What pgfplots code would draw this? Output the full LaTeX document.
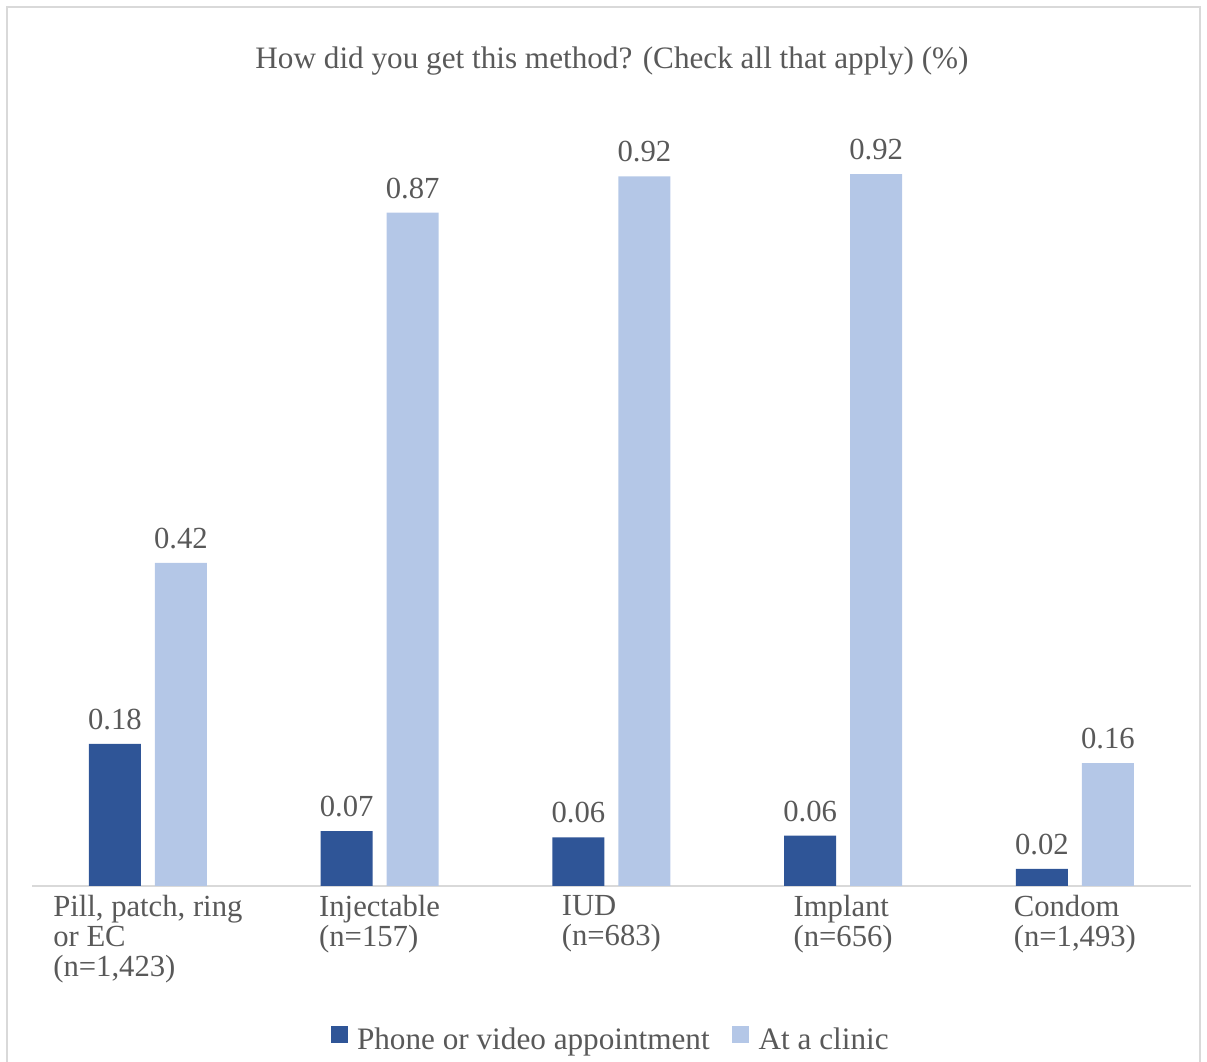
\documentclass[border=0pt]{standalone}
\usepackage{fontspec}
\setmainfont{Liberation Serif}
\usepackage{pgfplots}
\usepackage{pgfplotstable}
\pgfplotsset{compat=1.18}
\definecolor{darkbar}{HTML}{2F5597}
\definecolor{lightbar}{HTML}{B4C7E7}
\definecolor{textgrey}{HTML}{595959}
\definecolor{linegrey}{HTML}{D9D9D9}
\pgfplotstableread{
x y label
0 0.184 0.18
1 0.071 0.07
2 0.063 0.06
3 0.065 0.06
4 0.022 0.02
}\phone
\pgfplotstableread{
x y label
0 0.418 0.42
1 0.871 0.87
2 0.918 0.92
3 0.921 0.92
4 0.159 0.16
}\clinic
\newcommand{\chartfont}{\fontsize{23}{22.5}\selectfont}
\newcommand{\bigfont}{\fontsize{23.4}{22.5}\selectfont}
\begin{document}
\begin{tikzpicture}
\useasboundingbox (-24pt,-132pt) rectangle (881.25pt,664.5pt);
\draw[linegrey, line width=1.5pt] (-18.75pt,-140pt) -- (-18.75pt,659.25pt) -- (876pt,659.25pt) -- (876pt,-140pt);
\begin{axis}[
  scale only axis,
  width=869.06pt, height=579.75pt,
  xmin=-0.5, xmax=4.5, ymin=0, ymax=1,
  ybar=10.5pt, bar width=39pt,
  axis x line=bottom, axis y line=none,
  x axis line style={-, draw=linegrey, line width=1.5pt},
  xtick={0,1,2,3,4},
  xticklabels={{Pill, patch, ring\\or EC\\(n=1,423)},{Injectable\\(n=157)},{IUD\\(n=683)},{Implant\\(n=656)},{Condom\\(n=1,493)}},
  xtick style={draw=none},
  ytick=\empty,
  xticklabel style={align=left, anchor=north, inner sep=0pt, yshift=-4.5pt, font=\chartfont, text=textgrey},
  nodes near coords={\pgfplotspointmeta},
  point meta=explicit symbolic,
  every node near coord/.append style={anchor=base, inner sep=0pt, yshift=11pt, font=\chartfont, text=textgrey},
  legend style={draw=none, at={(0.4997,-0.1992)}, anchor=center, font=\bigfont, text=textgrey,
    legend columns=-1, inner sep=0pt,
    /tikz/every odd column/.append style={column sep=5pt},
    /tikz/every even column/.append style={column sep=15pt}},
  legend image code/.code={\fill[#1] (0pt,-2.25pt) rectangle (12.75pt,10.5pt);},
]
\addplot[fill=darkbar, draw=none] table[x=x, y=y, meta=label] {\phone};
\addplot[fill=lightbar, draw=none] table[x=x, y=y, meta=label] {\clinic};
\legend{Phone or video appointment, At a clinic}
\end{axis}
\node[anchor=base, font=\bigfont, text=textgrey] at (435pt,612.75pt) {How did you get this method? (Check all that apply) (\%)};
\end{tikzpicture}
\end{document}
